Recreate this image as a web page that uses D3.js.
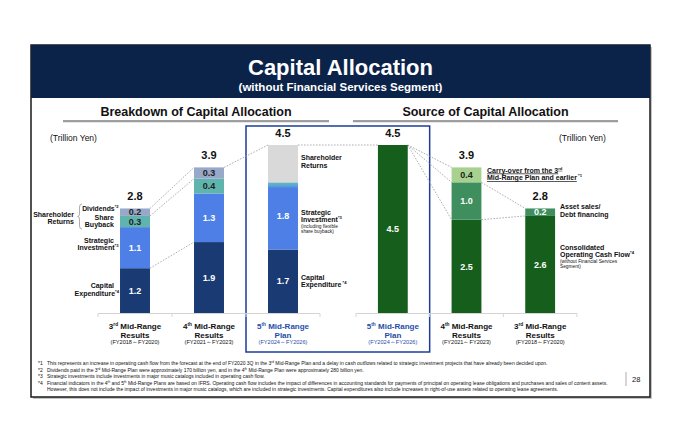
<!DOCTYPE html>
<html><head><meta charset="utf-8">
<script src="https://cdn.jsdelivr.net/npm/d3@7"></script>
<style>body{margin:0;background:#fff}svg{display:block}text{font-family:"Liberation Sans",Arial,sans-serif}</style>
</head><body><svg id="c" width="690" height="443"></svg>
<script>
// ---------------- DATA ----------------
const breakdownCats = ["3rd Results", "4th Results", "5th Plan"];
const capex      = [1.2, 1.9, 1.7];
const strategic  = [1.1, 1.3, 1.8];
const buyback    = [0.3, 0.4, 0];
const dividends  = [0.2, 0.3, 0];
const returns5th = [0, 0, 1.0];
const breakdownTotals = [2.8, 3.9, 4.5];

const sourceCats = ["5th Plan", "4th Results", "3rd Results"];
const opCashFlow = [4.5, 2.5, 2.6];
const assetSales = [0, 1.0, 0.2];
const carryOver  = [0, 0.4, 0];
const sourceTotals = [4.5, 3.9, 2.8];

const catNum    = {"3rd Results":["3","rd"], "4th Results":["4","th"], "5th Plan":["5","th"]};
const catLine2  = {"3rd Results":"Results", "4th Results":"Results", "5th Plan":"Plan"};
const catPeriod = {"3rd Results":"(FY2018～FY2020)", "4th Results":"(FY2021～FY2023)", "5th Plan":"(FY2024～FY2026)"};

const footnotes = [
  ["*1", [["This represents an increase in operating cash flow from the forecast at the end of FY2020 3Q in the 3"],["rd",1],[" Mid-Range Plan and a delay in cash outflows related to strategic investment projects that have already been decided upon."]]],
  ["*2", [["Dividends paid in the 3"],["rd",1],[" Mid-Range Plan were approximately 170 billion yen, and in the 4"],["th",1],[" Mid-Range Plan were approximately 280 billion yen."]]],
  ["*3", [["Strategic investments include investments in major music catalogs included in operating cash flow."]]],
  ["*4", [["Financial indicators in the 4"],["th",1],[" and 5"],["th",1],[" Mid-Range Plans are based on IFRS. Operating cash flow includes the impact of differences in accounting standards for payments of principal on operating lease obligations and purchases and sales of content assets."]]],
  ["",   [["However, this does not include the impact of investments in major music catalogs, which are included in strategic investments. Capital expenditures also include increases in right-of-use assets related to operating lease agreements."]]]
];

// ---------------- SETUP ----------------
const svg = d3.select("#c");
const defs = svg.append("defs");
const navy = "#0c2349";
const planBlue = "#1f4ea8";
const colors = {
  capex:"#1a3a74", strategic:"#4d7fe6", buyback:"#5fb4ae", dividends:"#98a8c8", returns:"#d9d9d9",
  ocf:"#155e1c", asset:"#3e8e5e", carry:"#a6d18f"
};
const labelColor = {capex:"#fff", strategic:"#fff", buyback:"#222", dividends:"#222", returns:null,
  ocf:"#fff", asset:"#fff", carry:"#222"};

// text helper: parts = [[str, sup?, decoration?], ...]
function addText(g, x, y, parts, o = {}) {
  const t = g.append("text").attr("x", x).attr("y", y)
    .attr("font-size", o.size || 7).attr("font-weight", o.weight || "bold")
    .attr("fill", o.fill || "#111").attr("text-anchor", o.anchor || "start");
  if (o.deco) t.style("text-decoration", o.deco);
  const fs = o.size || 7;
  let raised = false;
  parts.forEach(p => {
    const s = t.append("tspan").text(p[0]);
    if (p[1]) { s.attr("font-size", fs * 0.6).attr("dy", raised ? 0 : -fs * 0.38); raised = true; }
    else if (raised) { s.attr("dy", fs * 0.38); raised = false; }
    if (p[2]) s.style("text-decoration", p[2]);
  });
  return t;
}

// ---------------- FRAME ----------------
svg.append("rect").attr("x", 33).attr("y", 47).attr("width", 619).attr("height", 352).attr("fill", "#c4c4c4");
svg.append("rect").attr("x", 31).attr("y", 45).attr("width", 619).attr("height", 352)
  .attr("fill", "#fff").attr("stroke", "#1a1a1a").attr("stroke-width", 1.5);
svg.append("rect").attr("x", 31).attr("y", 45).attr("width", 619).attr("height", 53).attr("fill", navy);
svg.append("text").attr("x", 340.5).attr("y", 75).attr("text-anchor", "middle").attr("fill", "#fff")
  .attr("font-size", 22).attr("font-weight", "bold").text("Capital Allocation");
svg.append("text").attr("x", 340.5).attr("y", 91).attr("text-anchor", "middle").attr("fill", "#fff")
  .attr("font-size", 11.5).attr("font-weight", "bold").text("(without Financial Services Segment)");

// section headers
[["Breakdown of Capital Allocation", 63, 329], ["Source of Capital Allocation", 353, 618]].forEach(([t, a, b]) => {
  svg.append("text").attr("x", (a + b) / 2).attr("y", 115.5).attr("text-anchor", "middle")
    .attr("font-size", 12.5).attr("font-weight", "bold").attr("fill", "#111").text(t);
  svg.append("line").attr("x1", a).attr("x2", b).attr("y1", 122).attr("y2", 122).attr("stroke", "#d0d0d0").attr("stroke-width", 1);
  svg.append("line").attr("x1", a).attr("x2", b).attr("y1", 121).attr("y2", 121).attr("stroke", "#808080").attr("stroke-width", 1.6);
});

// units
addText(svg, 50, 140.5, [["(Trillion Yen)"]], {size: 8.5, weight: "normal"});
addText(svg, 559, 140.5, [["(Trillion Yen)"]], {size: 8.5, weight: "normal"});

// ---------------- SCALES ----------------
const y = d3.scaleLinear().domain([0, 4.5]).range([313, 145]);
const xL = d3.scaleBand().domain(breakdownCats).range([98, 320]).paddingInner(0.595).paddingOuter(0.2975);
const xR = d3.scaleBand().domain(sourceCats).range([356, 577]).paddingInner(0.595).paddingOuter(0.2975);

// stacks
const bdKeys = ["capex", "strategic", "buyback", "dividends", "returns"];
const bdRows = breakdownCats.map((c, i) => ({cat: c, capex: capex[i], strategic: strategic[i], buyback: buyback[i], dividends: dividends[i], returns: returns5th[i]}));
const bdStack = d3.stack().keys(bdKeys)(bdRows);
const srKeys = ["ocf", "asset", "carry"];
const srRows = sourceCats.map((c, i) => ({cat: c, ocf: opCashFlow[i], asset: assetSales[i], carry: carryOver[i]}));
const srStack = d3.stack().keys(srKeys)(srRows);

// plan box
const boxL = xL.range()[0] + xL.step() * 2;
const boxR = xR.range()[0] + xR.step();
svg.append("rect").attr("x", boxL).attr("y", 126).attr("width", boxR - boxL).attr("height", 226)
  .attr("fill", "none").attr("stroke", "#1b3c9c").attr("stroke-width", 1.5);

// gradient for 5th-plan strategic (flexible buyback blend)
const gr = defs.append("linearGradient").attr("id", "stratGrad").attr("x1", 0).attr("y1", 0).attr("x2", 0).attr("y2", 1);
gr.append("stop").attr("offset", "0%").attr("stop-color", "#68b8bc");
gr.append("stop").attr("offset", "5%").attr("stop-color", "#5aa6d2");
gr.append("stop").attr("offset", "9%").attr("stop-color", colors.strategic);
gr.append("stop").attr("offset", "100%").attr("stop-color", colors.strategic);

// baselines
function baseline(x) {
  const g = svg.append("g").attr("class", "baseline");
  const [a, b] = x.range();
  g.append("line").attr("x1", a).attr("x2", b).attr("y1", y(0) + 0.5).attr("y2", y(0) + 0.5).attr("stroke", "#d4d4d4").attr("stroke-width", 1);
  d3.range(x.domain().length + 1).forEach(k => {
    const xx = a + k * x.step();
    g.append("line").attr("x1", xx).attr("x2", xx).attr("y1", y(0) + 0.5).attr("y2", y(0) + 4).attr("stroke", "#d4d4d4").attr("stroke-width", 1);
  });
}
baseline(xL); baseline(xR);

// connectors
const topOf = (stack, key, i) => stack.find(s => s.key === key)[i][1];
const conn = [
  [xL, bdStack, 0, "dividends", xL, bdStack, 1, "dividends"],
  [xL, bdStack, 0, "buyback",   xL, bdStack, 1, "buyback"],
  [xL, bdStack, 0, "capex",     xL, bdStack, 1, "capex"],
  [xL, bdStack, 1, "returns",   xL, bdStack, 2, "returns"],
  [xL, bdStack, 2, "returns",   xR, srStack, 0, "carry"],
  [xR, srStack, 0, "carry",     xR, srStack, 1, "carry"],
  [xR, srStack, 0, "carry",     xR, srStack, 1, "asset"],
  [xR, srStack, 0, "carry",     xR, srStack, 1, "ocf"],
  [xR, srStack, 1, "asset",     xR, srStack, 2, "asset"],
  [xR, srStack, 1, "ocf",       xR, srStack, 2, "ocf"]
];
const cats = (x) => x.domain();
conn.forEach(([xa, sa, ia, ka, xb, sb, ib, kb]) => {
  svg.append("line")
    .attr("x1", xa(cats(xa)[ia]) + xa.bandwidth()).attr("y1", y(topOf(sa, ka, ia)))
    .attr("x2", xb(cats(xb)[ib])).attr("y2", y(topOf(sb, kb, ib)))
    .attr("stroke", "#9a9a9a").attr("stroke-width", 0.8).attr("stroke-dasharray", "1.6,1.4");
});

// bars
function drawBars(stack, x) {
  stack.forEach(series => {
    series.forEach(d => {
      if (d[1] - d[0] <= 0) return;
      const fill = (series.key === "strategic" && d.data.cat === "5th Plan") ? "url(#stratGrad)" : colors[series.key];
      svg.append("rect").attr("x", x(d.data.cat)).attr("y", y(d[1]))
        .attr("width", x.bandwidth()).attr("height", y(d[0]) - y(d[1])).attr("fill", fill);
      if (labelColor[series.key]) {
        svg.append("text").attr("x", x(d.data.cat) + x.bandwidth() / 2).attr("y", (y(d[0]) + y(d[1])) / 2 + 3.2)
          .attr("text-anchor", "middle").attr("font-size", 9).attr("font-weight", "bold")
          .attr("fill", labelColor[series.key]).text(d3.format(".1f")(d[1] - d[0]));
      }
    });
  });
}
drawBars(bdStack, xL);
drawBars(srStack, xR);

// totals
breakdownCats.forEach((c, i) => svg.append("text").attr("x", xL(c) + xL.bandwidth() / 2).attr("y", y(breakdownTotals[i]) - 8)
  .attr("text-anchor", "middle").attr("font-size", 11).attr("font-weight", "bold").attr("fill", "#111").text(d3.format(".1f")(breakdownTotals[i])));
sourceCats.forEach((c, i) => svg.append("text").attr("x", xR(c) + xR.bandwidth() / 2).attr("y", y(sourceTotals[i]) - 8)
  .attr("text-anchor", "middle").attr("font-size", 11).attr("font-weight", "bold").attr("fill", "#111").text(d3.format(".1f")(sourceTotals[i])));

// category labels
function catLabels(x) {
  x.domain().forEach(c => {
    const cx = x(c) + x.bandwidth() / 2;
    const col = c === "5th Plan" ? planBlue : "#111";
    addText(svg, cx, 329, [[catNum[c][0]], [catNum[c][1], 1], [" Mid-Range"]], {size: 8, anchor: "middle", fill: col});
    addText(svg, cx, 337.5, [[catLine2[c]]], {size: 8, anchor: "middle", fill: col});
    addText(svg, cx, 343.5, [[catPeriod[c]]], {size: 5.6, anchor: "middle", weight: "normal", fill: col});
  });
}
catLabels(xL); catLabels(xR);

// ---------------- ANNOTATIONS ----------------
const A = svg.append("g");
addText(A, 74, 216.5, [["Shareholder"]], {anchor: "end"});
addText(A, 74, 223.5, [["Returns"]], {anchor: "end"});
A.append("path").attr("d", "M82,204 Q79.5,204 79.5,207 L79.5,214 Q79.5,216.5 77.5,216.5 Q79.5,216.5 79.5,219 L79.5,226 Q79.5,229 82,229")
  .attr("fill", "none").attr("stroke", "#999").attr("stroke-width", 0.8);
addText(A, 118.5, 210.5, [["Dividends"], ["*2", 1]], {anchor: "end", size: 6.8});
addText(A, 114, 219.5, [["Share"]], {anchor: "end"});
addText(A, 114, 227, [["Buyback"]], {anchor: "end"});
addText(A, 114, 243, [["Strategic"]], {anchor: "end"});
addText(A, 118.5, 250, [["Investment"], ["*3", 1]], {anchor: "end"});
addText(A, 114, 287.5, [["Capital"]], {anchor: "end"});
addText(A, 119, 295.5, [["Expenditure"], ["*4", 1]], {anchor: "end"});

addText(A, 301, 160, [["Shareholder"]]);
addText(A, 301, 167.5, [["Returns"]]);
addText(A, 301, 214.5, [["Strategic"]]);
addText(A, 301, 221.5, [["Investment"], ["*3", 1]]);
addText(A, 301, 227.8, [["(including flexible"]], {size: 4.8, weight: "normal"});
addText(A, 301, 233.2, [["share buyback)"]], {size: 4.8, weight: "normal"});
addText(A, 301, 279.5, [["Capital"]]);
addText(A, 301, 287, [["Expenditure"], [" *4", 1]]);

addText(A, 487, 172.5, [["Carry-over from the 3"], ["rd", 1]], {deco: "underline"});
addText(A, 487, 180, [["Mid-Range Plan and earlier", 0, "underline"], [" *1", 1]]);
addText(A, 560, 209, [["Asset sales/"]]);
addText(A, 560, 216.5, [["Debt financing"]]);
addText(A, 560, 249.5, [["Consolidated"]]);
addText(A, 560, 257, [["Operating Cash Flow"], ["*4", 1]]);
addText(A, 560, 262.8, [["(without Financial Services"]], {size: 4.8, weight: "normal"});
addText(A, 560, 268, [["Segment)"]], {size: 4.8, weight: "normal"});

// ---------------- FOOTNOTES ----------------
const F = svg.append("g");
footnotes.forEach(([mark, parts], i) => {
  const yy = 365 + i * 6.5;
  if (mark) addText(F, 38, yy, [[mark]], {size: 5, weight: "normal"});
  addText(F, 47, yy, parts, {size: 5, weight: "normal"});
});
svg.append("line").attr("x1", 626).attr("x2", 626).attr("y1", 372).attr("y2", 386).attr("stroke", "#999").attr("stroke-width", 0.8);
addText(svg, 632, 381.5, [["28"]], {size: 7.5, weight: "normal"});
</script></body></html>
